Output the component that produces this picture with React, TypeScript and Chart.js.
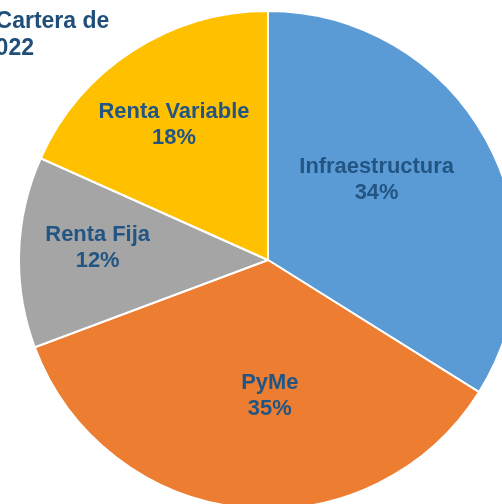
import React, { useEffect, useRef } from "react";
import { Chart, registerables } from "chart.js";

Chart.register(...registerables);

const categories = ["Infraestructura", "PyMe", "Renta Fija", "Renta Variable"];
const values = [33.9, 35.4, 12.4, 18.3];
const percentLabels = ["34%", "35%", "12%", "18%"];
const colors = ["#5B9BD5", "#ED7D31", "#A5A5A5", "#FFC000"];
const titleLine1 = "Cartera de";
const titleLine2 = "2022";

// label placement (fraction of radius, angular offset in degrees from slice bisector)
const labelRadius = [0.543, 0.545, 0.686, 0.661];
const labelAngleOffset = [-7.6, -6.5, 2.3, -1.9];

const LABEL_COLOR = "#235583";
const FONT = "'Liberation Sans', Arial, sans-serif";

const labelPlugin = {
  id: "sliceLabels",
  afterDatasetsDraw(chart: any) {
    const ctx = chart.ctx;
    const meta = chart.getDatasetMeta(0);
    ctx.save();
    ctx.fillStyle = LABEL_COLOR;
    ctx.font = `bold 21.9px ${FONT}`;
    ctx.textAlign = "center";
    ctx.textBaseline = "middle";
    meta.data.forEach((arc: any, i: number) => {
      const p = arc.getProps(["x", "y", "startAngle", "endAngle", "outerRadius"], true);
      const a = (p.startAngle + p.endAngle) / 2 + (labelAngleOffset[i] * Math.PI) / 180;
      const r = p.outerRadius * labelRadius[i];
      const cx = p.x + Math.cos(a) * r;
      const cy = p.y + Math.sin(a) * r;
      ctx.fillText(categories[i], cx, cy - 12.5);
      ctx.fillText(percentLabels[i], cx, cy + 13.3);
    });
    ctx.restore();
  },
};

export default function App() {
  const ref = useRef<HTMLCanvasElement | null>(null);
  useEffect(() => {
    if (!ref.current) return;
    const chart = new Chart(ref.current, {
      type: "pie",
      data: {
        labels: categories,
        datasets: [
          {
            data: values,
            backgroundColor: colors,
            borderColor: "#FFFFFF",
            borderWidth: 2,
          },
        ],
      },
      options: {
        responsive: false,
        animation: false,
        layout: { padding: 0 },
        plugins: {
          legend: { display: false },
          tooltip: { enabled: false },
          title: { display: false },
        },
      },
      plugins: [labelPlugin],
    });
    return () => chart.destroy();
  }, []);

  const titleStyle: React.CSSProperties = {
    position: "absolute",
    whiteSpace: "nowrap",
    fontFamily: FONT,
    fontWeight: "bold",
    fontSize: "23px",
    lineHeight: "23px",
    color: "#1F4E79",
  };

  return (
    <div
      style={{
        position: "fixed",
        left: 0,
        top: 0,
        width: 502,
        height: 504,
        overflow: "hidden",
        background: "#FFFFFF",
      }}
    >
      <canvas
        ref={ref}
        width={500}
        height={500}
        style={{ position: "absolute", left: 18, top: 10, width: 500, height: 500 }}
      />
      <div style={{ position: "absolute", left: 0, top: 0, width: 110, height: 60, overflow: "visible" }}>
        <div style={{ ...titleStyle, top: 9, right: 0.7 }}>{titleLine1}</div>
        <div style={{ ...titleStyle, top: 35.5, right: 76 }}>{titleLine2}</div>
      </div>
    </div>
  );
}
